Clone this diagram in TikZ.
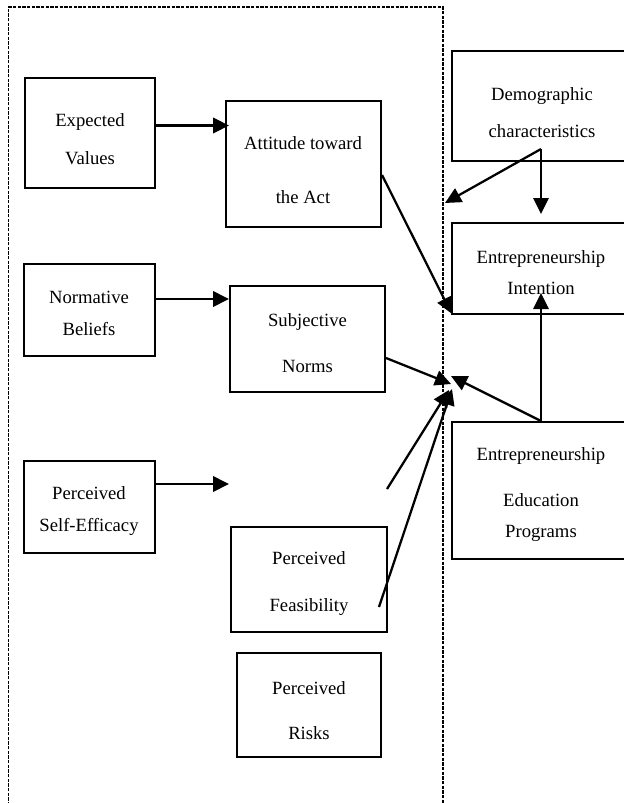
\documentclass[tikz,border=0pt]{standalone}
\usepackage{fontspec}
\setmainfont{Liberation Serif}
\usetikzlibrary{arrows.meta,calc,fit}
\begin{document}
\begin{tikzpicture}[x=0.75pt,y=-0.75pt,
  box/.style={draw, line width=1.5pt, inner sep=0pt},
  txt/.style={align=center, font=\fontsize{14}{14}\selectfont, inner sep=0pt},
  arr/.style={line width=1.7pt, -{Triangle[length=12pt,width=11.5pt]}},
  frame/.style={line width=1.1pt, dash pattern=on 2.5pt off 1pt}]
\clip (0,0) rectangle (624,803);
\fill[white] (0,0) rectangle (624,803);
% dashed frame
\draw[frame] (8.5,810) -- (8.5,7) -- (443,7) -- (443,810);
% boxes
\node[box, fit={(25,78) (155,188)}] (ev) {};
\node[box, fit={(226,101) (381,227)}] (att) {};
\node[box, fit={(452,51) (630,161)}] (demo) {};
\node[box, fit={(24,264) (155,356)}] (nb) {};
\node[box, fit={(230,286) (385,392)}] (sn) {};
\node[box, fit={(452,223) (630,314)}] (ei) {};
\node[box, fit={(24,461) (155,553)}] (pse) {};
\node[box, fit={(452,422) (630,559)}] (eep) {};
\node[box, fit={(231,527) (387,632)}] (pf) {};
\node[box, fit={(237,653) (381,757)}] (pr) {};
% texts
\node[txt] (ev-t) at (90,139) {Expected\\[14.5pt]Values};
\node[txt] (att-t) at (303,170) {Attitude toward\\[26.5pt]the Act};
\node[txt] (demo-t) at (542,112.5) {Demographic\\[13.75pt]characteristics};
\node[txt] (nb-t) at (89,313) {Normative\\[10pt]Beliefs};
\node[txt] (sn-t) at (307.5,343) {Subjective\\[20.5pt]Norms};
\node[txt] (ei-t) at (541,272.5) {Entrepreneurship\\[9.25pt]Intention};
\node[txt] (pse-t) at (89,511) {Perceived\\[10pt]Self-Efficacy};
\node[txt] (eep-t) at (541,494.5) {Entrepreneurship\\[20.5pt]Education\\[9.25pt]Programs};
\node[txt] (pf-t) at (309,583.5) {Perceived\\[21.25pt]Feasibility};
\node[txt] (pr-t) at (309,710.5) {Perceived\\[19.75pt]Risks};
% coordinates
\coordinate (dsrc) at ($(demo.south)+(0,-13)$);
\coordinate (dtip) at (445,203);
\coordinate (pseend) at (387,489);
\coordinate (cSN) at (451,384);
\coordinate (cEEP) at (451,376);
\coordinate (cA) at (449,390);
\coordinate (cB) at (452,389);
% connectors
\draw[arr, line width=2.3pt] ($(ev.east)+(0,-7.5)$) -- ++(73,0);
\draw[arr, line width=2pt] ($(nb.east)+(0,-11)$) -- ++(73,0);
\draw[arr, line width=2pt] ($(pse.east)+(0,-23)$) -- ++(73,0);
\draw[arr] ($(att.east)+(0,11)$) -- ($(ei.south west)+(0.5,-1.5)$);
\draw[arr] (dsrc) -- (dtip);
\draw[arr] (dsrc) -- ($(ei.north)+(0,-8)$);
\draw[arr] (eep.north) -- ($(ei.south)+(0,-22)$);
\draw[arr] (eep.north) -- (cEEP);
\draw[arr] ($(sn.east)+(0,19)$) -- (cSN);
\draw[arr] (pseend) -- (cA);
\draw[arr] ($(pf.east)+(-9,27.5)$) -- (cB);
\end{tikzpicture}
\end{document}
